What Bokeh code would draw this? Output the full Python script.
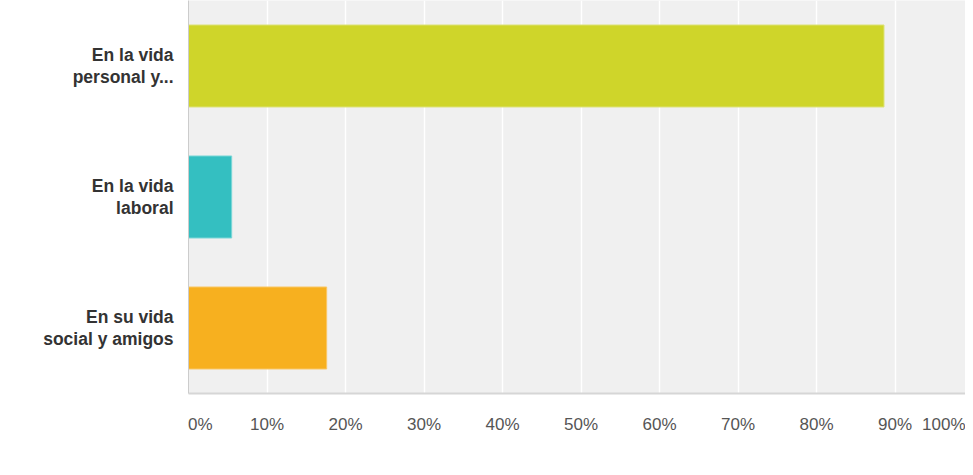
from bokeh.plotting import figure
from bokeh.models import Range1d, FixedTicker
from bokeh.embed import file_html
from bokeh.resources import INLINE

categories = ["En la vida\npersonal y...", "En la vida\nlaboral", "En su vida\nsocial y amigos"]
values = [88.6, 5.5, 17.6]
colors = ["#cfd52a", "#34bfc1", "#f7b01f"]
edge_colors = ["#dde27a", "#7ad6d7", "#f9c766"]
tick_values = [0, 10, 20, 30, 40, 50, 60, 70, 80, 90, 100]
tick_labels = ["0%", "10%", "20%", "30%", "40%", "50%", "60%", "70%", "80%", "90%", "100%"]

positions = list(range(len(categories)))
FONT = "Liberation Sans"
NB = "\u00a0"

W, H = 965, 467
LEFT, BOTTOM = 188, 74
frame_w = W - LEFT
x_end = 100 * frame_w / 785.0  # keep 78.5 px per 10 %, frame cut at window edge

p = figure(width=W, height=H, output_backend="svg", toolbar_location=None,
           x_range=Range1d(0, x_end), y_range=Range1d(2.5, -0.5),
           min_border_left=LEFT, min_border_right=0, min_border_top=0, min_border_bottom=BOTTOM)

p.background_fill_color = "#f0f0f0"
p.border_fill_color = "white"
p.outline_line_color = None

p.hbar(y=positions, left=0, right=values, height=0.626,
       fill_color=colors, line_color=edge_colors, line_width=1)

p.xgrid.ticker = FixedTicker(ticks=[t for t in tick_values if t <= x_end])
p.xgrid.grid_line_color = "white"
p.xgrid.grid_line_width = 1.5
p.ygrid.visible = False

axis_ticks = [t for t in tick_values if t < x_end] + [x_end]
overrides = {}
for t, l in zip(tick_values, tick_labels):
    if t == tick_values[0]:
        overrides[t] = NB * 5 + l
    elif t == tick_values[-1]:
        overrides[x_end] = l
    else:
        overrides[t] = l

xa = p.xaxis[0]
xa.ticker = FixedTicker(ticks=axis_ticks)
xa.major_label_overrides = overrides
xa.axis_line_color = "#d6d6d6"
xa.axis_line_width = 2
xa.major_tick_line_color = None
xa.minor_tick_line_color = None
xa.major_tick_out = 0
xa.major_label_standoff = 21
xa.major_label_text_font = FONT
xa.major_label_text_font_size = "17px"
xa.major_label_text_color = "#555555"

ya = p.yaxis[0]
ya.ticker = FixedTicker(ticks=positions)
ya.major_label_overrides = {i: c for i, c in zip(positions, categories)}
ya.axis_line_color = "#cccccc"
ya.axis_line_width = 1
ya.major_tick_line_color = None
ya.minor_tick_line_color = None
ya.major_tick_out = 0
ya.major_label_standoff = 15
ya.major_label_text_font = FONT
ya.major_label_text_font_size = "17.5px"
ya.major_label_text_font_style = "bold"
ya.major_label_text_color = "#333333"
ya.major_label_text_line_height = 1.12

open("out.html", "w").write(file_html(p, INLINE))
